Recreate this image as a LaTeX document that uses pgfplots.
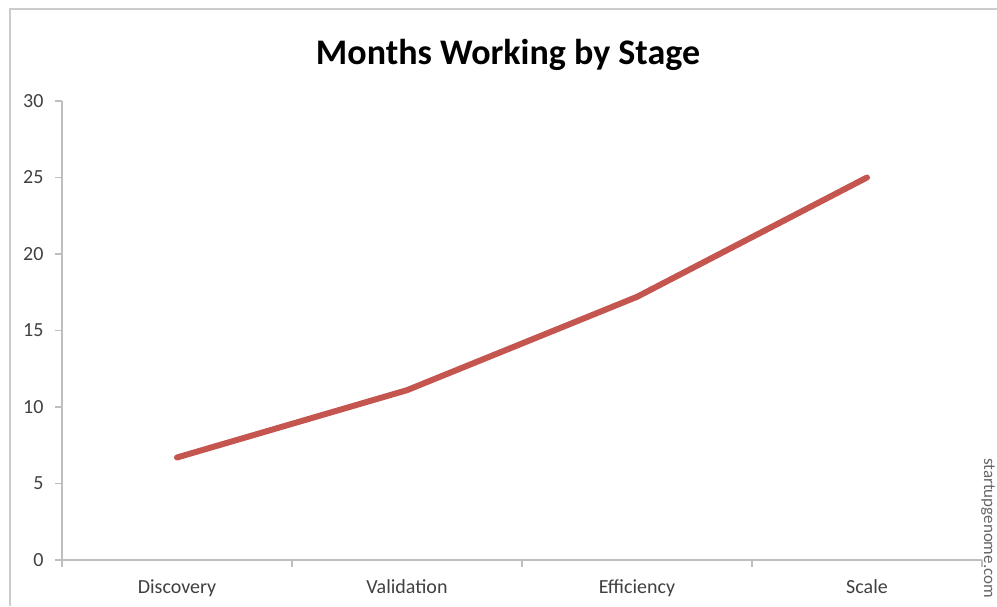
\documentclass[border=0pt]{standalone}
\usepackage{pgfplots}
\pgfplotsset{compat=1.18}
\usepackage{fontspec}
\setmainfont{Carlito}
\definecolor{linered}{HTML}{C4554F}
\definecolor{axisgray}{HTML}{BEBEBE}
\definecolor{labelgray}{HTML}{404040}
\begin{document}
\begin{tikzpicture}[x=1pt,y=1pt]
\useasboundingbox (0,0) rectangle (997,606);
\draw[color=black!20, line width=2.5pt] (10,0) -- (10,597) -- (997,597);
\node[font=\fontsize{36}{40}\selectfont\bfseries, text=black] at (508,551) {Months Working by Stage};
\node[rotate=-90, anchor=south west, font=\fontsize{17}{20}\selectfont, text=black!60, inner sep=0pt] at (981,148) {startupgenome.com};
\begin{axis}[
  at={(62pt,46pt)}, anchor=south west,
  scale only axis, width=920pt, height=459pt,
  xmin=-0.5, xmax=3.5, ymin=0, ymax=30,
  axis lines*=left,
  axis line style={axisgray, line width=1.3pt},
  xtick={0,1,2,3},
  xticklabels={Discovery,Validation,Efficiency,Scale},
  minor xtick={-0.5,0.5,1.5,2.5,3.5},
  ytick={0,5,10,15,20,25,30},
  tick align=outside,
  major tick length=7pt,
  minor tick length=7pt,
  x tick style={draw=none},
  minor x tick style={draw=axisgray, line width=1.3pt},
  y tick style={draw=axisgray, line width=1.3pt},
  tick label style={font=\fontsize{20}{24}\selectfont, text=labelgray},
  /pgf/number format/assume math mode=true,
  xticklabel style={yshift=-9pt},
  yticklabel style={xshift=-8pt},
  clip=false,
]
\addplot[linered, line width=6pt, line cap=round, line join=round] coordinates {
(0,6.7) (1,11.1) (2,17.2) (3,25.0)
};
\end{axis}
\end{tikzpicture}
\end{document}
